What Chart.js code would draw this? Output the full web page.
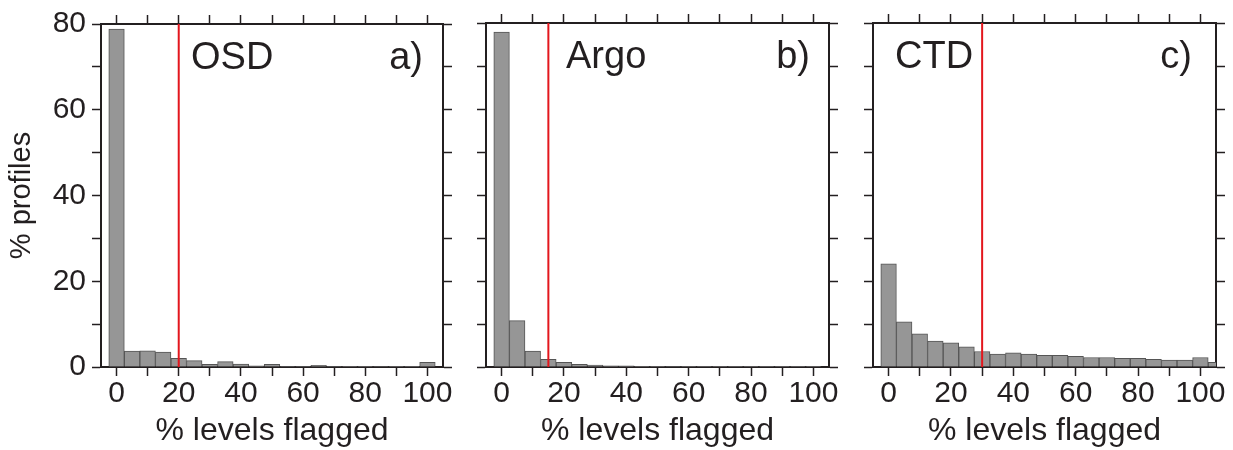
<!DOCTYPE html>
<html>
<head>
<meta charset="utf-8">
<script src="https://cdn.jsdelivr.net/npm/chart.js@4.4.1/dist/chart.umd.min.js"></script>
<style>
  html, body { margin: 0; padding: 0; background: #fff; }
  #wrap { position: relative; width: 1233px; height: 450px; overflow: hidden; }
  #wrap canvas { position: absolute; top: 0; }
</style>
</head>
<body>
<div id="wrap">
  <canvas id="chart-osd" width="460" height="450" style="left:0"></canvas>
  <canvas id="chart-argo" width="390" height="450" style="left:460px"></canvas>
  <canvas id="chart-ctd" width="383" height="450" style="left:850px"></canvas>
</div>
<script>
/* Histograms of % levels flagged per profile — OSD / Argo / CTD */

// ── Data ────────────────────────────────────────────────────
const binCenters = [0, 5, 10, 15, 20, 25, 30, 35, 40, 45, 50, 55, 60, 65, 70, 75, 80, 85, 90, 95, 100, 105];
const osdPct  = [78.8, 3.7, 3.8, 3.5, 2.0, 1.5, 0.6, 1.25, 0.7, 0.25, 0.6, 0.1, 0.1, 0.4, 0.1, 0.15, 0.15, 0.1, 0.05, 0.05, 1.1, 0];
const argoPct = [77.9, 10.8, 3.7, 1.8, 1.1, 0.6, 0.45, 0.3, 0.25, 0.15, 0.15, 0.1, 0.15, 0.05, 0.05, 0.05, 0.05, 0.05, 0.05, 0.05, 0.05, 0];
const ctdPct  = [24.0, 10.5, 7.7, 6.0, 5.6, 4.7, 3.6, 3.0, 3.3, 3.0, 2.7, 2.7, 2.5, 2.2, 2.2, 2.0, 2.0, 1.8, 1.6, 1.6, 2.2, 1.1];

const panelNames   = ['OSD', 'Argo', 'CTD'];
const panelLetters = ['a)', 'b)', 'c)'];
const cutoffs      = [20, 15, 30];

const xTicks      = [0, 10, 20, 30, 40, 50, 60, 70, 80, 90, 100];
const xTickLabels = [0, 20, 40, 60, 80, 100];
const yTicks      = [0, 10, 20, 30, 40, 50, 60, 70, 80];
const yTickLabels = [0, 20, 40, 60, 80];

// ── Style ───────────────────────────────────────────────────
const INK  = '#231f20';
const FONT = "'Liberation Sans', Arial, Helvetica, sans-serif";

const tickGrid = { drawOnChartArea: false, drawTicks: true, tickLength: 9, tickWidth: 1.5, tickColor: INK, offset: false };
const frame    = { display: true, color: INK, width: 2 };

// panel name + letter inside the frame
const panelLabels = {
  id: 'panelLabels',
  afterDatasetsDraw(chart, args, opts) {
    const { ctx, chartArea } = chart;
    ctx.save();
    ctx.fillStyle = INK;
    ctx.font = `38px ${FONT}`;
    ctx.textBaseline = 'alphabetic';
    ctx.textAlign = 'left';
    ctx.fillText(opts.name, chartArea.left + opts.nameX, chartArea.top + 45);
    ctx.textAlign = 'right';
    ctx.fillText(opts.letter, chartArea.right - opts.letterX, chartArea.top + 45);
    ctx.restore();
  }
};

function setTicks(vals) {
  return s => { s.ticks = vals.map(v => ({ value: v })); };
}

function buildPanel(id, values, i, layout) {
  const first = i === 0;
  new Chart(document.getElementById(id), {
    type: 'bar',
    data: {
      datasets: [
        {
          type: 'line',
          data: [{ x: cutoffs[i], y: 0 }, { x: cutoffs[i], y: 80 }],
          borderColor: '#e3161d',
          borderWidth: 2,
          pointRadius: 0,
          order: 0,
        },
        {
          data: binCenters.map((x, k) => ({ x, y: values[k] })),
          backgroundColor: '#969696',
          borderColor: '#555555',
          borderWidth: 1,
          barPercentage: 1,
          categoryPercentage: 1,
          order: 1,
        }
      ]
    },
    options: {
      responsive: false,
      animation: false,
      events: [],
      layout: { padding: 0 },
      plugins: {
        legend: { display: false },
        tooltip: { enabled: false },
        panelLabels: { name: panelNames[i], letter: panelLetters[i], nameX: layout.nameX, letterX: layout.letterX },
      },
      scales: {
        x: {
          type: 'linear', position: 'bottom', min: -5, max: 105, offset: false,
          grid: tickGrid, border: frame,
          afterBuildTicks: setTicks(xTicks),
          ticks: {
            autoSkip: false, maxRotation: 0, padding: 0, color: INK,
            font: { family: FONT, size: 30 },
            callback: v => xTickLabels.includes(v) ? String(v) : '',
          },
          title: { display: true, text: '% levels flagged', color: INK, font: { family: FONT, size: 32 }, padding: 0 },
          afterFit: s => { s.height = 83; },
        },
        x2: {
          type: 'linear', position: 'top', min: -5, max: 105, offset: false,
          grid: tickGrid, border: frame,
          afterBuildTicks: setTicks(xTicks),
          ticks: { display: false, autoSkip: false },
          afterFit: s => { s.height = 23; },
        },
        y: {
          type: 'linear', position: 'left', min: 0, max: 80,
          grid: tickGrid, border: frame,
          afterBuildTicks: setTicks(yTicks),
          ticks: {
            display: first, autoSkip: false, padding: 6, color: INK,
            font: { family: FONT, size: 30 },
            callback: v => yTickLabels.includes(v) ? String(v) : '',
          },
          title: { display: first, text: '% profiles', color: INK, font: { family: FONT, size: 29 }, padding: { top: 5, bottom: 0 } },
          afterFit: s => { s.width = layout.left; },
        },
        y2: {
          type: 'linear', position: 'right', min: 0, max: 80,
          grid: tickGrid, border: frame,
          afterBuildTicks: setTicks(yTicks),
          ticks: { display: false, autoSkip: false },
          afterFit: s => { s.width = layout.right; },
        },
      }
    },
    plugins: [panelLabels]
  });
}

buildPanel('chart-osd',  osdPct,  0, { left: 101, right: 17, nameX: 90, letterX: 20 });
buildPanel('chart-argo', argoPct, 1, { left: 26,  right: 21, nameX: 80, letterX: 19 });
buildPanel('chart-ctd',  ctdPct,  2, { left: 23,  right: 17, nameX: 22, letterX: 24 });
</script>
</body>
</html>
